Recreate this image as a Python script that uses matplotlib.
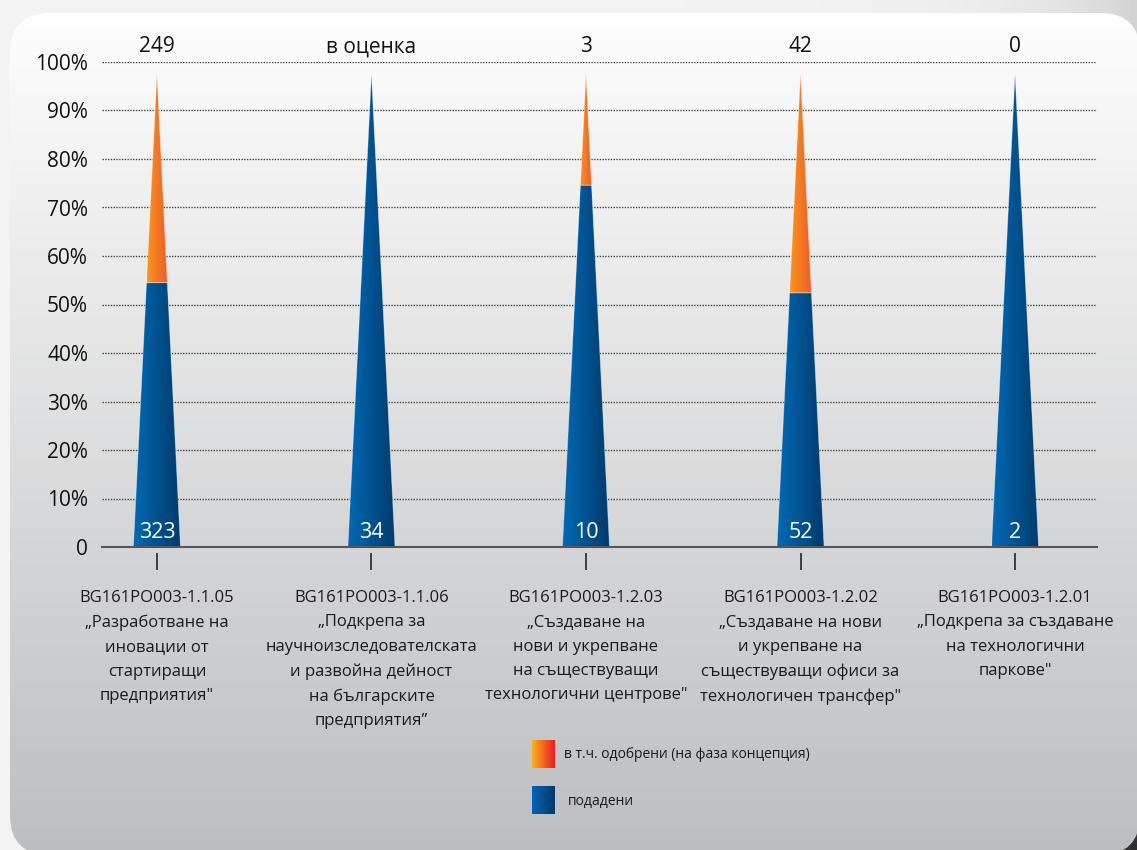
import numpy as np
import matplotlib
matplotlib.use("Agg")
import matplotlib.pyplot as plt
from matplotlib.colors import LinearSegmentedColormap
from matplotlib.patches import Polygon, FancyBboxPatch

plt.rcParams['font.family'] = ['Open Sans', 'DejaVu Sans']

# ---------------- data ----------------
codes = ["BG161PO003-1.1.05", "BG161PO003-1.1.06", "BG161PO003-1.2.03",
         "BG161PO003-1.2.02", "BG161PO003-1.2.01"]
titles = ["„Разработване на\nиновации от\nстартиращи\nпредприятия\"",
          "„Подкрепа за\nнаучноизследователската\nи развойна дейност\nна българските\nпредприятия”",
          "„Създаване на\nнови и укрепване\nна съществуващи\nтехнологични центрове\"",
          "„Създаване на нови\nи укрепване на\nсъществуващи офиси за\nтехнологичен трансфер\"",
          "„Подкрепа за създаване\nна технологични\nпаркове\""]
submitted = [323, 34, 10, 52, 2]
approved_labels = ["249", "в оценка", "3", "42", "0"]
spike_top = [97.5, 97.5, 97.5, 97.5, 97.5]          # % height of each spike
approved_from = [54.5, None, 74.6, 52.4, None]      # % level where orange part starts
y_ticks = [0, 10, 20, 30, 40, 50, 60, 70, 80, 90, 100]
y_labels = ["0", "10%", "20%", "30%", "40%", "50%", "60%", "70%", "80%", "90%", "100%"]
legend_labels = ["в т.ч. одобрени (на фаза концепция)", "подадени"]

# ---------------- style ----------------
W, H = 1137, 850
blue_cmap = LinearSegmentedColormap.from_list("b", ["#006ab4", "#003a6c"])
orange_cmap = LinearSegmentedColormap.from_list("o", ["#f8961e", "#ef5a29"])
leg_orange = LinearSegmentedColormap.from_list("lo", ["#fbb21a", "#ed1c24"])
leg_blue = LinearSegmentedColormap.from_list("lb", ["#0066b3", "#003868"])
panel_cmap = LinearSegmentedColormap.from_list("p", ["#fefefe", "#bdbec0"])

fig = plt.figure(figsize=(W / 100, H / 100), dpi=100)

# background (pixel coordinates)
bg = fig.add_axes([0, 0, 1, 1], zorder=-10)
bg.set_xlim(0, W)
bg.set_ylim(H, 0)
bg.axis('off')
yy, xx = np.mgrid[0:1:86j, 0:1:115j]
v = 0.95 - 0.65 * xx ** 10 * yy ** 4 - 0.12 * xx ** 10
bg.imshow(v, cmap='gray', vmin=0, vmax=1, extent=[0, W, H, 0], aspect='auto',
          interpolation='bilinear')
panel = FancyBboxPatch((10, 13), 1130, 842, boxstyle="round,pad=0,rounding_size=40",
                       facecolor='none', edgecolor='none')
bg.add_patch(panel)
grad = np.linspace(0, 1, 256)[:, None]
im = bg.imshow(grad, cmap=panel_cmap, extent=[10, 1140, 855, 13], aspect='auto',
               interpolation='bilinear')
im.set_clip_path(panel)

# legend
hgrad = np.linspace(0, 1, 64)[None, :]
bg.imshow(hgrad, cmap=leg_orange, extent=[532, 555, 768, 740], aspect='auto', interpolation='bilinear')
bg.imshow(hgrad, cmap=leg_blue, extent=[532, 555, 814, 786], aspect='auto', interpolation='bilinear')
bg.text(564, 754, legend_labels[0], fontsize=10, va='center', ha='left', color='#1a1a1a')
bg.text(568, 801, legend_labels[1], fontsize=10, va='center', ha='left', color='#1a1a1a')
bg.set_xlim(0, W)
bg.set_ylim(H, 0)

# main axes
ax = fig.add_axes([102 / W, (H - 547) / H, (1097 - 102) / W, (547 - 62) / H])
ax.set_facecolor('none')
x = np.arange(len(codes))
hw = 0.1096

for i in range(len(codes)):
    top = spike_top[i]
    s = approved_from[i] if approved_from[i] is not None else top
    ws = hw * (1 - s / top)
    xi = x[i]
    blue_poly = Polygon([(xi - hw, 0), (xi + hw, 0), (xi + ws, s), (xi - ws, s)],
                        closed=True, facecolor='none', edgecolor='none')
    ax.add_patch(blue_poly)
    img = ax.imshow(hgrad, cmap=blue_cmap, extent=[xi - hw, xi + hw, 0, s],
                    aspect='auto', interpolation='bilinear', zorder=2)
    img.set_clip_path(blue_poly)
    ax.add_patch(Polygon([(xi - hw, 0), (xi + hw, 0), (xi + ws, s), (xi - ws, s)],
                         closed=True, facecolor='none', edgecolor='white',
                         lw=0.6, alpha=0.35, zorder=3))
    if approved_from[i] is not None:
        or_poly = Polygon([(xi - ws, s), (xi + ws, s), (xi, top)],
                          closed=True, facecolor='none', edgecolor='none')
        ax.add_patch(or_poly)
        img2 = ax.imshow(hgrad, cmap=orange_cmap, extent=[xi - ws, xi + ws, s, top],
                         aspect='auto', interpolation='bilinear', zorder=2)
        img2.set_clip_path(or_poly)
        ax.add_patch(Polygon([(xi - ws, s), (xi + ws, s), (xi, top)],
                             closed=True, facecolor='none', edgecolor='white',
                             lw=0.6, alpha=0.35, zorder=3))
    ax.text(xi, 2.9, str(submitted[i]), color='white', fontsize=15.5,
            ha='center', va='center', zorder=4)
    ax.text(xi, 103.1, approved_labels[i], color='#111111', fontsize=15,
            ha='center', va='center', clip_on=False)
    ax.text(xi, -8.9, codes[i] + "\n" + titles[i], color='#1a1a1a', fontsize=12,
            ha='center', va='top', linespacing=1.69, clip_on=False)

ax.vlines(x, -1.25, -4.75, colors='#333333', lw=1.3, clip_on=False)

ax.set_xlim(-0.256, 4.382)
ax.set_ylim(0, 100)
ax.set_xticks([])
ax.set_yticks(y_ticks)
ax.set_yticklabels(y_labels)
ax.tick_params(axis='y', length=0, pad=10, labelsize=15, labelcolor='#111111')
ax.yaxis.grid(True, linestyle=(0, (1, 1)), color='#444444', lw=1.0)
ax.set_axisbelow(True)
for sp in ['top', 'right', 'left']:
    ax.spines[sp].set_visible(False)
ax.spines['bottom'].set_color('#555555')
ax.spines['bottom'].set_linewidth(1.5)
ax.spines['bottom'].set_zorder(5)

fig.savefig("out.png", dpi=100)
